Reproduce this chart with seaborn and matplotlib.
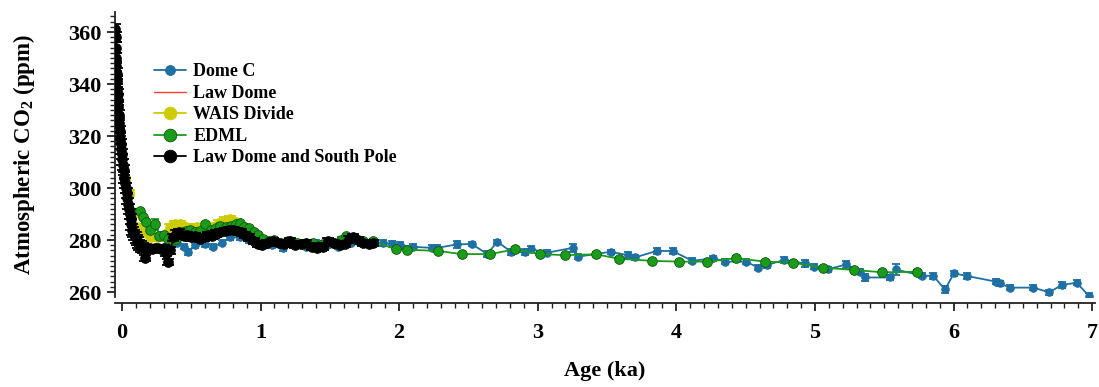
import numpy as np
import pandas as pd
import seaborn as sns
import matplotlib.pyplot as plt
from matplotlib.ticker import MultipleLocator

# ---------------------------------------------------------
# DATA (age in ka, CO2 in ppm, 1-sigma error in ppm)
# ---------------------------------------------------------
domec_age = [0.40, 0.45, 0.48, 0.53, 0.60, 0.66, 0.72, 0.78, 0.85, 0.92,
             1.00, 1.08, 1.16, 1.25, 1.33, 1.40, 1.48, 1.56, 1.65, 1.72,
             1.80, 1.885, 1.95, 2.006, 2.097, 2.234, 2.275, 2.415, 2.523, 2.636,
             2.708, 2.807, 2.908, 2.951, 3.064, 3.252, 3.292, 3.526, 3.648, 3.701,
             3.858, 3.973, 4.115, 4.267, 4.351, 4.502, 4.591, 4.652, 4.776, 4.93,
             4.99, 5.096, 5.224, 5.325, 5.361, 5.541, 5.582, 5.77, 5.854, 5.938,
             6.003, 6.094, 6.306, 6.335, 6.407, 6.575, 6.69, 6.78, 6.888, 6.977]
domec_co2 = [279.0, 277.5, 275.5, 278.0, 278.5, 277.5, 279.0, 281.0, 281.0, 280.0,
             279.0, 278.0, 276.8, 278.0, 277.5, 279.0, 278.0, 277.5, 279.0, 279.5,
             279.0, 279.0, 278.5, 278.1, 277.4, 277.0, 277.0, 278.3, 278.5, 274.6,
             279.4, 275.5, 275.3, 276.5, 275.1, 277.0, 273.6, 275.5, 274.2, 273.3,
             275.8, 275.8, 272.0, 273.0, 271.7, 271.7, 269.4, 270.4, 272.3, 271.0,
             269.7, 268.8, 270.6, 267.8, 265.6, 265.6, 268.7, 266.3, 266.2, 261.0,
             267.2, 266.2, 264.0, 263.3, 261.7, 261.7, 259.9, 262.7, 263.6, 258.5]
domec_err = [1.0, 1.0, 1.2, 1.0, 1.0, 1.0, 1.0, 1.0, 1.0, 1.0,
             1.0, 1.0, 1.2, 1.0, 1.0, 1.0, 1.0, 1.0, 1.0, 1.0,
             1.0, 1.2, 1.0, 1.2, 1.0, 1.0, 1.0, 1.2, 0.8, 1.0,
             0.8, 1.2, 1.2, 1.2, 1.0, 1.5, 1.0, 0.8, 1.2, 1.0,
             1.2, 1.2, 1.0, 1.0, 1.0, 1.0, 1.0, 1.2, 1.0, 1.2,
             1.0, 1.0, 1.2, 1.0, 1.5, 1.0, 2.0, 1.0, 1.0, 1.5,
             1.0, 1.0, 1.0, 1.0, 1.0, 1.0, 1.0, 1.0, 1.0, 1.2]

lawdome_age = [0.00, 0.05, 0.10, 0.15, 0.22, 0.30, 0.34, 0.38, 0.45, 0.55,
               0.65, 0.75, 0.85, 0.95, 1.05, 1.15, 1.25, 1.35, 1.45, 1.55,
               1.65, 1.72, 1.80, 1.85]
lawdome_co2 = [312.0, 295.0, 282.0, 278.0, 277.0, 276.0, 273.0, 279.0, 281.0, 281.0,
               281.5, 283.0, 282.5, 280.0, 279.5, 278.5, 278.5, 278.0, 278.0, 278.5,
               280.5, 281.0, 279.5, 279.0]

wais_age = [0.02, 0.05, 0.08, 0.11, 0.15, 0.20, 0.25, 0.30, 0.35, 0.38,
            0.42, 0.46, 0.50, 0.54, 0.58, 0.62, 0.66, 0.70, 0.74, 0.78,
            0.82, 0.86, 0.90, 0.94, 0.98]
wais_co2 = [303.0, 298.0, 290.0, 285.0, 283.0, 281.0, 281.0, 281.5, 285.0, 286.0,
            286.0, 285.0, 284.5, 285.0, 285.0, 285.5, 285.0, 286.5, 287.5, 288.0,
            287.0, 285.5, 283.5, 282.0, 280.5]
wais_err = [1.2, 1.2, 1.2, 1.2, 1.2, 1.2, 1.2, 1.2, 1.2, 1.2,
            1.2, 1.2, 1.2, 1.2, 1.2, 1.2, 1.2, 1.2, 1.2, 1.2,
            1.2, 1.2, 1.2, 1.2, 1.2]

edml_age = [0.13, 0.15, 0.17, 0.20, 0.24, 0.27, 0.30, 0.33, 0.36, 0.39,
            0.43, 0.46, 0.49, 0.53, 0.56, 0.60, 0.64, 0.68, 0.71, 0.75,
            0.79, 0.82, 0.85, 0.88, 0.92, 0.95, 0.98, 1.02, 1.06, 1.10,
            1.15, 1.20, 1.26, 1.32, 1.38, 1.45, 1.52, 1.58, 1.62, 1.68,
            1.74, 1.81, 1.98, 2.06, 2.28, 2.45, 2.655, 2.835, 3.016, 3.196,
            3.42, 3.588, 3.822, 4.02, 4.22, 4.428, 4.64, 4.84, 5.055, 5.28,
            5.486, 5.734]
edml_co2 = [291.0, 289.0, 287.0, 284.0, 286.0, 281.5, 282.0, 280.5, 280.0, 280.5,
            282.5, 283.5, 284.0, 283.0, 283.5, 286.0, 284.0, 284.5, 285.5, 285.0,
            285.5, 286.0, 286.5, 285.0, 284.5, 283.0, 282.0, 280.5, 279.5, 280.0,
            279.0, 279.5, 279.0, 278.5, 279.0, 278.5, 279.0, 280.0, 281.5, 280.5,
            279.5, 279.5, 276.5, 276.3, 275.8, 274.6, 274.6, 276.4, 274.6, 274.2,
            274.5, 272.8, 272.0, 271.7, 271.7, 273.0, 271.7, 271.3, 269.4, 268.5,
            267.6, 267.8]
edml_err = [1.0, 1.0, 1.0, 1.0, 2.0, 1.0, 1.0, 1.0, 1.0, 1.0,
            1.0, 1.0, 1.0, 1.0, 1.0, 1.0, 1.0, 1.0, 1.0, 1.0,
            1.0, 1.0, 1.0, 1.0, 1.0, 1.0, 1.0, 1.0, 1.0, 1.0,
            1.0, 1.0, 1.0, 1.0, 1.0, 1.0, 1.0, 1.0, 1.0, 1.0,
            1.0, 1.0, 0.8, 0.8, 0.8, 0.8, 0.8, 0.8, 0.8, 0.8,
            0.8, 0.8, 0.8, 0.8, 0.8, 0.8, 0.8, 0.8, 0.8, 0.8,
            0.8, 0.8]

ldsp_age = [-0.048, -0.046, -0.044, -0.042, -0.040, -0.038, -0.036, -0.034, -0.031, -0.028,
            -0.025, -0.022, -0.019, -0.016, -0.013, -0.010, -0.006, -0.002, 0.003, 0.008,
            0.013, 0.018, 0.023, 0.028, 0.033, 0.038, 0.044, 0.050, 0.056, 0.062,
            0.068, 0.075, 0.082, 0.090, 0.098, 0.106, 0.115, 0.125, 0.135, 0.150,
            0.165, 0.180, 0.200, 0.220, 0.240, 0.260, 0.280, 0.300, 0.320, 0.335,
            0.350, 0.370, 0.390, 0.410, 0.430, 0.450, 0.470, 0.500, 0.530, 0.560,
            0.590, 0.620, 0.650, 0.680, 0.710, 0.740, 0.770, 0.800, 0.830, 0.860,
            0.890, 0.920, 0.950, 0.980, 1.010, 1.050, 1.090, 1.130, 1.170, 1.210,
            1.250, 1.290, 1.330, 1.370, 1.410, 1.450, 1.490, 1.530, 1.570, 1.610,
            1.640, 1.670, 1.700, 1.740, 1.780, 1.810]
ldsp_co2 = [361.0, 358.0, 354.0, 350.0, 347.0, 344.0, 341.0, 338.0, 336.0, 334.0,
            331.0, 328.0, 325.0, 322.0, 319.0, 317.0, 315.0, 313.0, 311.0, 309.0,
            307.0, 304.0, 302.0, 300.0, 298.0, 296.0, 294.0, 292.0, 290.0, 288.0,
            286.0, 284.0, 283.0, 282.0, 281.0, 280.0, 279.0, 278.0, 277.5, 277.0,
            273.0, 277.0, 277.0, 276.5, 277.0, 277.0, 276.5, 277.0, 275.0, 271.5,
            276.0, 281.0, 282.5, 283.0, 282.0, 281.5, 282.0, 281.0, 281.5, 280.5,
            281.0, 282.0, 281.5, 282.5, 283.0, 283.5, 284.0, 284.0, 283.5, 283.0,
            282.0, 281.0, 279.5, 278.5, 278.0, 279.0, 279.5, 279.0, 278.5, 279.5,
            278.0, 278.5, 279.0, 277.5, 277.0, 277.5, 279.5, 279.0, 278.0, 278.5,
            280.5, 281.0, 280.0, 279.0, 278.5, 279.0]
ldsp_err = [2.0] * 40 + [1.2] * 56

x_ticks = [0, 1, 2, 3, 4, 5, 6, 7]
y_ticks = [260, 280, 300, 320, 340, 360]

# ---------------------------------------------------------
# STYLE
# ---------------------------------------------------------
sns.set_theme(style="ticks")
plt.rcParams['font.family'] = ['Liberation Serif', 'DejaVu Serif']
plt.rcParams['font.weight'] = 'bold'
plt.rcParams['text.color'] = 'black'
plt.rcParams['mathtext.fontset'] = 'custom'
plt.rcParams['mathtext.rm'] = 'Liberation Serif:bold'
plt.rcParams['mathtext.bf'] = 'Liberation Serif:bold'

c_blue = '#1d6fa4'
c_red = '#ff3b3b'
c_yellow = '#cccc00'
c_green = '#1a9c1a'
c_black = '#000000'

fig = plt.figure(figsize=(10.99, 3.87), dpi=100)
ax = fig.add_axes([0.1046, 0.2326, 0.8917, 0.7364])


def series(ax, age, co2, err, color, label, ms, mec, zorder, lw=1.3, marker='o', cap=3):
    df = pd.DataFrame({'age': age, 'co2': co2})
    if err is not None:
        ax.errorbar(age, co2, yerr=err, fmt='none', ecolor=color, elinewidth=1.2,
                    capsize=cap, capthick=1.3, zorder=zorder)
    sns.lineplot(data=df, x='age', y='co2', ax=ax, color=color, lw=lw, marker=marker,
                 markersize=ms, markeredgecolor=mec, markeredgewidth=0.6,
                 label=label, zorder=zorder + 0.5, errorbar=None)


series(ax, domec_age, domec_co2, domec_err, c_blue, 'Dome C', 5.5, c_blue, 2)
series(ax, lawdome_age, lawdome_co2, None, c_red, 'Law Dome', 0, c_red, 3, lw=1.0, marker=None)
series(ax, wais_age, wais_co2, wais_err, c_yellow, 'WAIS Divide', 7, c_yellow, 4, cap=4)
series(ax, edml_age, edml_co2, edml_err, c_green, 'EDML', 7, '#0b5a0b', 5)
series(ax, ldsp_age, ldsp_co2, ldsp_err, c_black, 'Law Dome and South Pole', 7, c_black, 6, cap=4.5)

ax.set_xlim(-0.0505, 7.02)
ax.set_ylim(258.1, 367.7)
ax.set_xticks(x_ticks)
ax.set_yticks(y_ticks)
ax.xaxis.set_minor_locator(MultipleLocator(0.1))
ax.yaxis.set_minor_locator(MultipleLocator(2))

sns.despine(ax=ax)
ax.spines['bottom'].set_position(('outward', 4.5))
for s in ('left', 'bottom'):
    ax.spines[s].set_linewidth(1.3)
    ax.spines[s].set_color('#222222')

ax.tick_params(axis='both', which='major', direction='out', length=6, width=1.3,
               color='#222222', labelsize=16, labelcolor='black')
ax.tick_params(axis='both', which='minor', direction='out', length=3.5, width=1.0,
               color='#222222')
ax.tick_params(axis='x', which='major', pad=8)
ax.tick_params(axis='y', which='major', pad=4)
for lab in ax.get_xticklabels() + ax.get_yticklabels():
    lab.set_fontweight('bold')

ax.set_xlabel('Age (ka)', fontsize=16, fontweight='bold', labelpad=13, color='black')
ax.set_ylabel('Atmospheric CO$_2$ (ppm)', fontsize=16.5, fontweight='bold', labelpad=22,
              color='black')

leg = ax.legend(loc='upper left', bbox_to_anchor=(0.032, 0.845), frameon=False,
                prop={'family': 'Liberation Serif', 'weight': 'bold', 'size': 13},
                handlelength=1.8, handletextpad=0.4, labelspacing=0.25, markerscale=1.3,
                borderaxespad=0, labelcolor='black')

fig.savefig('out.png', dpi=100)
